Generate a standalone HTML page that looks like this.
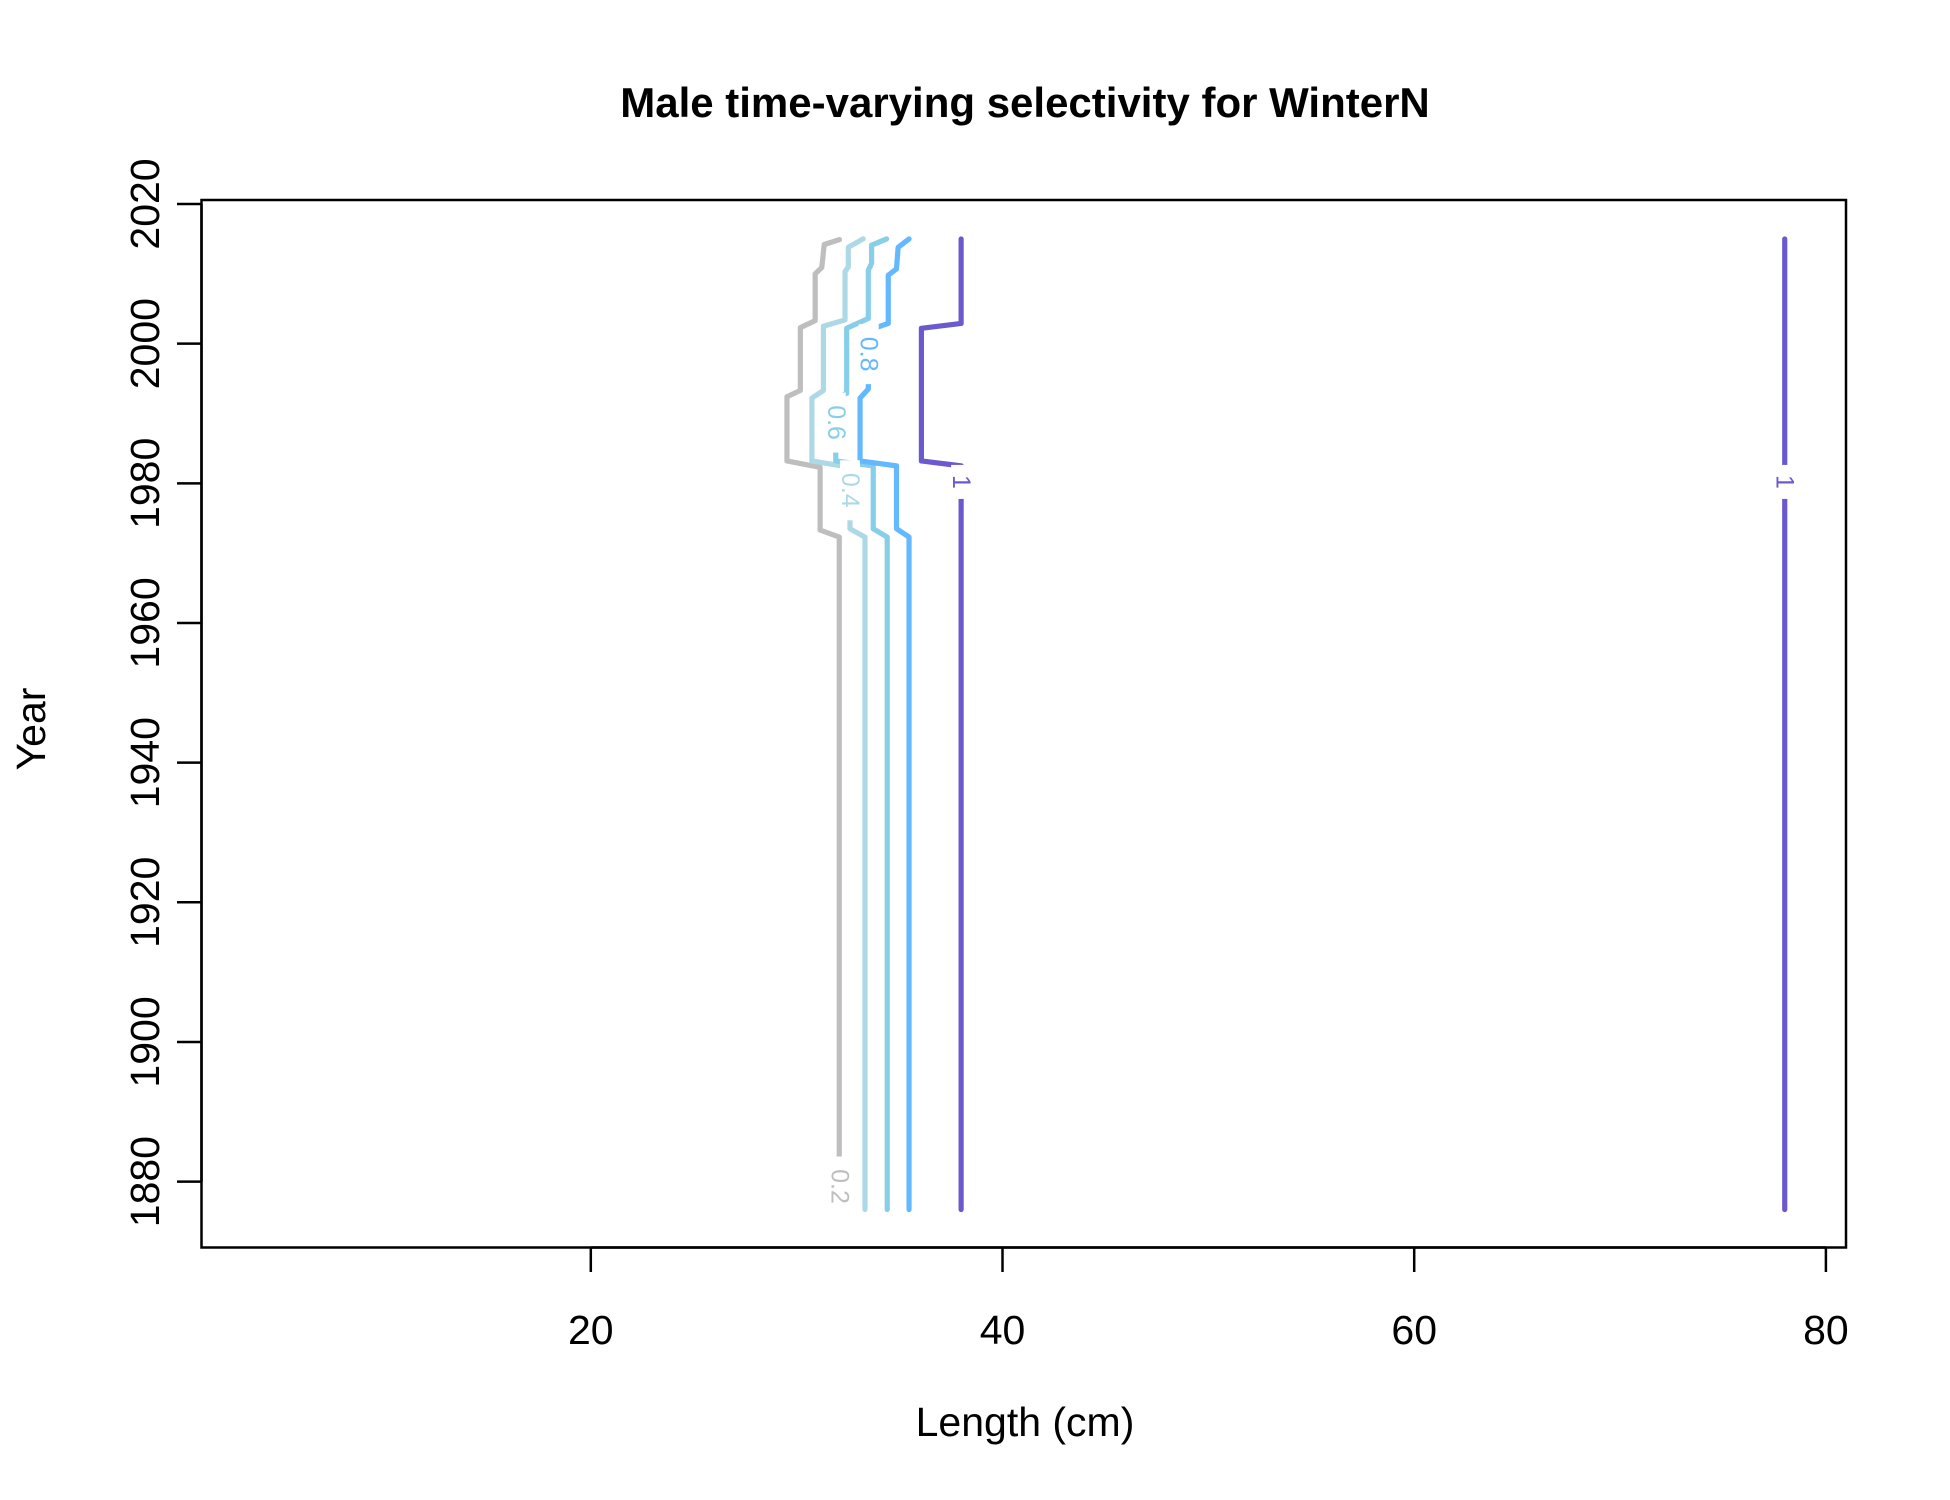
<!DOCTYPE html>
<html><head><meta charset="utf-8"><style>
html,body{margin:0;padding:0;background:#fff}
svg{display:block;font-family:"Liberation Sans",Arial,sans-serif}
</style></head><body>
<svg id="chart" width="1950" height="1500" viewBox="0 0 1950 1500">
<rect x="0" y="0" width="1950" height="1500" fill="#fff"/>
<text x="1025" y="117" text-anchor="middle" font-weight="bold" font-size="42">Male time-varying selectivity for WinterN</text>
<g id="plot"></g>
<rect x="201.5" y="200" width="1644.5" height="1047.5" fill="none" stroke="#000" stroke-width="2.5"/>
<text x="1025" y="1436" text-anchor="middle" font-size="41">Length (cm)</text>
<text transform="translate(45,729) rotate(-90)" text-anchor="middle" font-size="41">Year</text>
</svg>
<script>
const xTicks = [20, 40, 60, 80];
const yTicks = [1880, 1900, 1920, 1940, 1960, 1980, 2000, 2020];
const levels = ["0.2", "0.4", "0.6", "0.8", "1", "1"];
const colors = ["#BEBEBE", "#ADD8E6", "#87CEEB", "#63B8FF", "#6A5ACD", "#6A5ACD"];
const c02x = [32.07, 32.07, 31.14, 31.14, 29.53, 29.53, 30.18, 30.18, 30.9, 30.9, 31.22, 31.34, 32.08];
const c02y = [1876, 1972.3, 1973.3, 1982.3, 1983.2, 1992.4, 1993.3, 2002.3, 2003.3, 2010, 2010.9, 2014.2, 2014.9];
const c04x = [33.32, 33.32, 32.59, 32.59, 30.74, 30.74, 31.3, 31.3, 32.35, 32.35, 32.51, 32.51, 33.23];
const c04y = [1876, 1972.3, 1973.5, 1982.3, 1983.2, 1992.2, 1993.3, 2002.5, 2003.4, 2010.3, 2011, 2013.8, 2015];
const c06x = [34.4, 34.4, 33.72, 33.72, 31.9, 31.9, 32.43, 32.43, 33.48, 33.48, 33.64, 33.64, 34.37];
const c06y = [1876, 1972.3, 1973.5, 1982.5, 1983.2, 1992.2, 1992.9, 2002.2, 2003.6, 2010.5, 2011.5, 2014.1, 2015];
const c08x = [35.46, 35.46, 34.85, 34.85, 33.08, 33.08, 33.48, 33.56, 34.45, 34.45, 34.85, 34.93, 35.46];
const c08y = [1876, 1972.3, 1973.5, 1982.5, 1983.2, 1992.2, 1993.5, 2002, 2002.9, 2009.8, 2010.7, 2013.8, 2015];
const c1ax = [37.99, 37.99, 36.06, 36.06, 37.99, 37.99];
const c1ay = [1876, 1982.5, 1983.2, 2002.2, 2002.9, 2015];
const c1bx = [78.0, 78.0];
const c1by = [1876, 2015];
const labelX = [32.07, 32.59, 31.9, 33.5, 37.99, 78.0];
const labelY = [1879.3, 1979, 1988.7, 1998.5, 1980.2, 1980.2];

const NS = "http://www.w3.org/2000/svg";
function sx(v){ return 590.8 + (v - 20) * 20.585; }
function sy(v){ return 204 + (2020 - v) * 6.983; }
const svg = document.getElementById('chart');
const plot = document.getElementById('plot');

const xa = document.createElementNS(NS,'g');


svg.appendChild(xa);
const xl = document.createElementNS(NS,'line');
xl.setAttribute('x1', sx(xTicks[0])); xl.setAttribute('x2', sx(xTicks[xTicks.length-1]));
xl.setAttribute('y1',1247.5); xl.setAttribute('y2',1247.5);
xl.setAttribute('stroke','#000'); xl.setAttribute('stroke-width','2.5');


xa.appendChild(xl);
xTicks.forEach(t=>{
  const l = document.createElementNS(NS,'line');
  l.setAttribute('x1',sx(t)); l.setAttribute('x2',sx(t));
  l.setAttribute('y1',1247.5); l.setAttribute('y2',1272);
  l.setAttribute('stroke','#000'); l.setAttribute('stroke-width','2.5');
  
  
  xa.appendChild(l);
  const tx = document.createElementNS(NS,'text');
  tx.setAttribute('x',sx(t)); tx.setAttribute('y',1344);
  tx.setAttribute('text-anchor','middle'); tx.setAttribute('font-size','41');
  tx.textContent = t;
  
  
  xa.appendChild(tx);
});
const ya = document.createElementNS(NS,'g');


svg.appendChild(ya);
const yl = document.createElementNS(NS,'line');
yl.setAttribute('x1',201.5); yl.setAttribute('x2',201.5);
yl.setAttribute('y1', sy(yTicks[0])); yl.setAttribute('y2', sy(yTicks[yTicks.length-1]));
yl.setAttribute('stroke','#000'); yl.setAttribute('stroke-width','2.5');


ya.appendChild(yl);
yTicks.forEach(t=>{
  const l = document.createElementNS(NS,'line');
  l.setAttribute('x1',177); l.setAttribute('x2',201.5);
  l.setAttribute('y1',sy(t)); l.setAttribute('y2',sy(t));
  l.setAttribute('stroke','#000'); l.setAttribute('stroke-width','2.5');
  
  
  ya.appendChild(l);
  const tx = document.createElementNS(NS,'text');
  tx.setAttribute('transform','translate(159,'+sy(t)+') rotate(-90)');
  tx.setAttribute('text-anchor','middle'); tx.setAttribute('font-size','41');
  tx.textContent = t;
  
  
  ya.appendChild(tx);
});

const cx = [c02x, c04x, c06x, c08x, c1ax, c1bx];
const cy = [c02y, c04y, c06y, c08y, c1ay, c1by];
cx.forEach((xs,i)=>{
  const p = document.createElementNS(NS,'polyline');
  p.setAttribute('points', xs.map((v,j)=>sx(v)+','+sy(cy[i][j])).join(' '));
  p.setAttribute('fill','none'); p.setAttribute('stroke',colors[i]);
  p.setAttribute('stroke-width','5.2'); p.setAttribute('stroke-linejoin','round');
  p.setAttribute('stroke-linecap','round');
  
  
  plot.appendChild(p);
});
levels.forEach((lv,i)=>{
  const X = sx(labelX[i]), Y = sy(labelY[i]);
  const w = lv.length>1 ? 50 : 24;
  const r = document.createElementNS(NS,'rect');
  r.setAttribute('x',X-10); r.setAttribute('y',Y-w/2-5);
  r.setAttribute('width',20); r.setAttribute('height',w+10);
  r.setAttribute('fill','#fff');
  
  
  plot.appendChild(r);
  const t = document.createElementNS(NS,'text');
  t.setAttribute('transform','translate('+X+','+Y+') rotate(90)');
  t.setAttribute('text-anchor','middle'); t.setAttribute('dominant-baseline','central');
  t.setAttribute('font-size','25'); t.setAttribute('fill',colors[i]);
  t.textContent = lv;
  
  
  plot.appendChild(t);
});
</script>
</body></html>
